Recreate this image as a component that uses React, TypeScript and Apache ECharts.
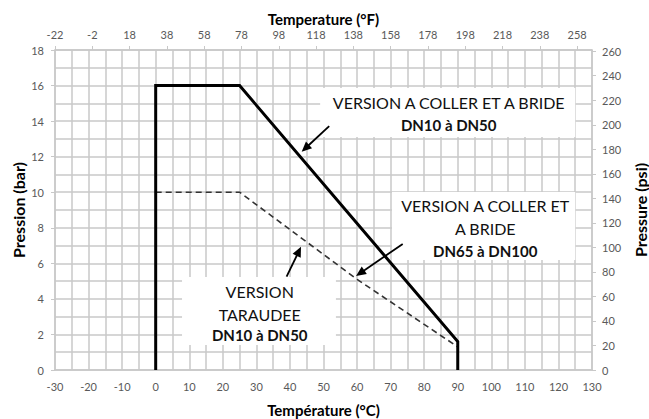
import React, { useEffect, useRef } from "react";
import * as echarts from "echarts";

// ---- data (°C, bar) ----
const solidTemp = [0, 0, 25, 90, 90];
const solidBar = [0, 16, 16, 1.6, 0];
const dashedTemp = [0, 25, 60, 90];
const dashedBar = [10, 10, 5.1, 1.3];

// ---- axes ----
const cMin = -30, cMax = 130, cStep = 10;
const fMin = -22, fMax = 266, fStep = 20;
const barMin = 0, barMax = 18, barStep = 2;
const psiMin = 0, psiMax = 261, psiStep = 20;

const titleBottom = "Température (°C)";
const titleTop = "Temperature (°F)";
const titleLeft = "Pression (bar)";
const titleRight = "Pressure (psi)";

// ---- annotations (texts) ----
const note1Lines = ["VERSION A COLLER ET A BRIDE", "DN10 à DN50"];
const note2Lines = ["VERSION A COLLER ET", "A BRIDE", "DN65 à DN100"];
const note3Lines = ["VERSION", "TARAUDEE", "DN10 à DN50"];

// annotation placement in data coordinates (°C, bar)
const notes = [
  { lines: note1Lines, bold: [false, true], box: [[49, 15.86], [125, 13.1]], cx: 87.3, ys: [15.02, 13.78], arrow: [[51.7, 13.72], [43.5, 12.28]] },
  { lines: note2Lines, bold: [false, false, true], box: [[70.4, 10.01], [125, 6.19]], cx: 98.2, ys: [9.25, 7.96, 6.69], arrow: [[73.6, 7.09], [59.7, 5.29]] },
  { lines: note3Lines, bold: [false, false, true], box: [[7.85, 5.23], [53.7, 1.41]], cx: 31.0, ys: [4.44, 3.15, 1.97], arrow: [[39.0, 5.25], [43.3, 6.93]] },
];

const FONT = "Lato, 'Open Sans', sans-serif";
const GRID = "#c8c8c8";
const LABEL = "#595959";

export default function App() {
  const ref = useRef<HTMLDivElement>(null);
  useEffect(() => {
    document.body.style.margin = "0";
    if (!ref.current) return;
    const chart = echarts.init(ref.current, undefined, { renderer: "svg" });
    const splitStyle = { show: true, lineStyle: { color: GRID, width: 1.5 } };
    const axisLine = { show: true, onZero: false, lineStyle: { color: GRID, width: 1.5 } };
    const hName = { fontSize: 15, fontWeight: "bold", color: "#000", fontFamily: FONT };
    const vName = { fontSize: 16, fontWeight: "bold", color: "#000", fontFamily: FONT };
    chart.setOption({
      animation: false,
      textStyle: { fontFamily: FONT },
      grid: { left: 55, right: 57, top: 50, bottom: 49, containLabel: false, outerBoundsMode: "none" },
      xAxis: [
        {
          type: "value", min: cMin, max: cMax, interval: cStep, position: "bottom",
          axisLine,
          axisTick: { show: false },
          minorTick: { show: false, splitNumber: 2 },
          splitLine: splitStyle,
          minorSplitLine: splitStyle,
          axisLabel: { color: LABEL, fontSize: 11, margin: 11, fontFamily: FONT },
          name: titleBottom, nameLocation: "middle", nameGap: 32, nameMoveOverlap: false,
          nameTextStyle: hName,
        },
        {
          type: "value", min: fMin, max: fMax, interval: fStep, position: "top",
          axisLine,
          axisTick: { show: true, inside: false, length: 4, lineStyle: { color: GRID } },
          splitLine: { show: false },
          minorSplitLine: { show: false },
          axisLabel: { color: LABEL, fontSize: 11, margin: 10, showMaxLabel: false, fontFamily: FONT },
          name: titleTop, nameLocation: "middle", nameGap: 24, nameMoveOverlap: false,
          nameTextStyle: hName,
        },
      ],
      yAxis: [
        {
          type: "value", min: barMin, max: barMax, interval: barStep, position: "left",
          axisLine,
          axisTick: { show: true, length: 4, lineStyle: { color: GRID } },
          minorTick: { show: false, splitNumber: 2 },
          splitLine: splitStyle,
          minorSplitLine: splitStyle,
          axisLabel: { color: LABEL, fontSize: 11, margin: 11, fontFamily: FONT },
          name: titleLeft, nameLocation: "middle", nameGap: 29, nameMoveOverlap: false,
          nameTextStyle: vName,
        },
        {
          type: "value", min: psiMin, max: psiMax, interval: psiStep, position: "right",
          axisLine,
          axisTick: { show: true, length: 4, lineStyle: { color: GRID } },
          splitLine: { show: false },
          axisLabel: { color: LABEL, fontSize: 11, margin: 10, showMaxLabel: false, fontFamily: FONT },
          name: titleRight, nameLocation: "middle", nameGap: 40, nameMoveOverlap: false,
          nameTextStyle: vName,
        },
      ],
      series: [
        {
          type: "line", xAxisIndex: 0, yAxisIndex: 0, showSymbol: false, symbol: "none",
          data: dashedTemp.map((t, i) => [t, dashedBar[i]]),
          lineStyle: { color: "#333", width: 1.6, type: [6, 4] },
          z: 3,
        },
        {
          type: "line", xAxisIndex: 0, yAxisIndex: 0, showSymbol: false, symbol: "none",
          data: solidTemp.map((t, i) => [t, solidBar[i]]),
          lineStyle: { color: "#000", width: 3, join: "miter" },
          z: 4,
        },
      ],
    });

    const px = (p: number[]) => chart.convertToPixel({ xAxisIndex: 0, yAxisIndex: 0 }, p) as number[];
    const graphics: any[] = [];
    notes.forEach((n) => {
      const a = px(n.box[0]);
      const b = px(n.box[1]);
      graphics.push({
        type: "rect", z: 10,
        shape: { x: a[0], y: a[1], width: b[0] - a[0], height: b[1] - a[1] },
        style: { fill: "#fff" },
      });
      n.lines.forEach((t, i) => {
        const p = px([n.cx, n.ys[i]]);
        const bold = n.bold[i];
        graphics.push({
          type: "text", z: 11, x: p[0], y: p[1],
          style: {
            text: t, fill: "#111",
            font: `${bold ? "bold " : ""}${bold ? 15 : 16}px ${FONT}`,
            align: "center", verticalAlign: "middle",
            textAlign: "center", textVerticalAlign: "middle",
          },
        });
      });
      const tail = px(n.arrow[0]);
      const head = px(n.arrow[1]);
      const dx = head[0] - tail[0], dy = head[1] - tail[1];
      const len = Math.hypot(dx, dy);
      const ux = dx / len, uy = dy / len;
      const L = 10, W = 4.5;
      const bx = head[0] - ux * L, by = head[1] - uy * L;
      graphics.push({
        type: "line", z: 12,
        shape: { x1: tail[0], y1: tail[1], x2: bx + ux * 2, y2: by + uy * 2 },
        style: { stroke: "#000", lineWidth: 1.8 },
      });
      graphics.push({
        type: "polygon", z: 12,
        shape: { points: [[head[0], head[1]], [bx - uy * W, by + ux * W], [bx + uy * W, by - ux * W]] },
        style: { fill: "#000" },
      });
    });
    chart.setOption({ graphic: graphics });

    return () => chart.dispose();
  }, []);
  return <div ref={ref} style={{ width: 649, height: 419, position: "absolute", left: 0, top: 0 }} />;
}
